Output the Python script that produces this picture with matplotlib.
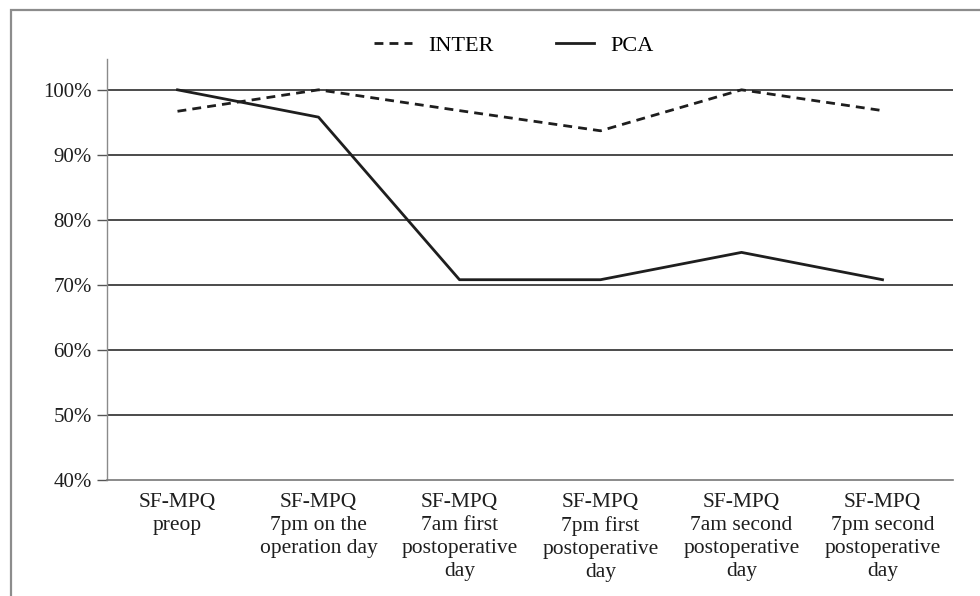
import matplotlib
matplotlib.use("Agg")
import matplotlib.pyplot as plt
from matplotlib.patches import Rectangle
from matplotlib.ticker import FuncFormatter

categories = [
    "SF-MPQ\npreop",
    "SF-MPQ\n7pm on the\noperation day",
    "SF-MPQ\n7am first\npostoperative\nday",
    "SF-MPQ\n7pm first\npostoperative\nday",
    "SF-MPQ\n7am second\npostoperative\nday",
    "SF-MPQ\n7pm second\npostoperative\nday",
]
inter = [96.7, 100.0, 96.8, 93.7, 100.0, 96.8]
pca = [100.0, 95.8, 70.8, 70.8, 75.0, 70.8]
yticks = [40, 50, 60, 70, 80, 90, 100]

plt.rcParams['font.family'] = ['Liberation Serif', 'DejaVu Serif']

fig = plt.figure(figsize=(9.8, 5.96), dpi=100)
ax = fig.add_axes([107/980, 1-480/596, (953-107)/980, (480-58.6)/596])

x = list(range(len(categories)))
ax.plot(x, inter, color='#1e1e1e', lw=2.0, ls=(0, (3.2, 2.2)), label='INTER')
ax.plot(x, pca, color='#1e1e1e', lw=2.0, ls='-', label='PCA')

ax.set_xlim(-0.5, len(categories) - 0.5)
ax.set_ylim(40, 104.8)
ax.set_yticks(yticks)
ax.yaxis.set_major_formatter(FuncFormatter(lambda v, p: f"{int(v)}%"))
ax.set_xticks(x)
ax.set_xticklabels(categories, linespacing=1.3, va='top')
ax.tick_params(axis='x', length=0, pad=9, labelsize=15.5, colors='#1e1e1e')
ax.tick_params(axis='y', length=7, width=1, color='#555555', pad=4, labelsize=15, labelcolor='#1e1e1e')

for y in yticks[1:]:
    ax.axhline(y, color='#1a1a1a', lw=1.1, zorder=0)

for s in ['top', 'right']:
    ax.spines[s].set_visible(False)
ax.spines['left'].set_color('#8a8a8a')
ax.spines['left'].set_linewidth(1.0)
ax.spines['bottom'].set_color('#777777')
ax.spines['bottom'].set_linewidth(1.2)

fig.legend(loc='center', bbox_to_anchor=(514/980, 1-46/596), ncol=2, frameon=False,
           fontsize=16, handlelength=1.7, handletextpad=0.75, columnspacing=2.8)

fig.patches.append(Rectangle((10.5/980, -0.1), 1.2, 1 - 10/596 + 0.1, transform=fig.transFigure,
                             fill=False, edgecolor='#8c8c8c', lw=1.6))

fig.savefig("out.png", dpi=100, facecolor='white')
